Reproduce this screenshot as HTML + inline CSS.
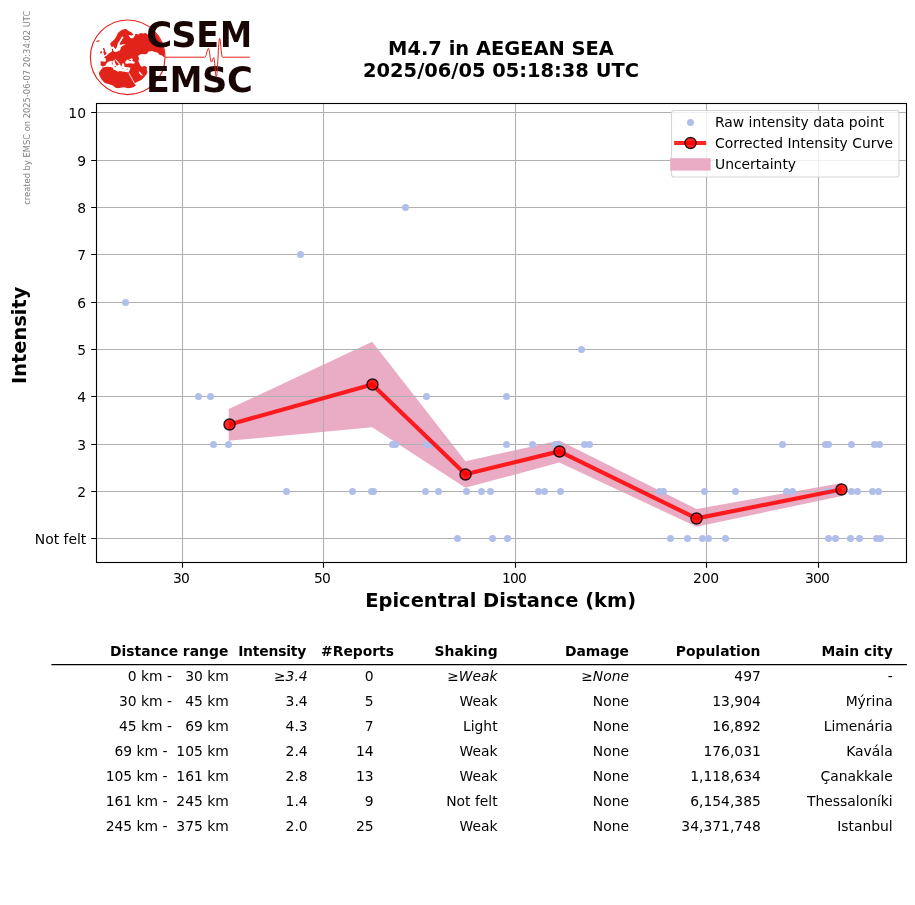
<!DOCTYPE html>
<html lang="en"><head><meta charset="utf-8"><title>M4.7 in AEGEAN SEA - Intensity vs Distance</title>
<style>
html,body{margin:0;padding:0;background:#fff;}
body{width:915px;height:905px;overflow:hidden;}
svg{display:block;font-family:"DejaVu Sans","Liberation Sans",sans-serif;will-change:transform;}
.t{font-size:13.89px;fill:#000;}
.b{font-weight:bold;}
.i{font-style:italic;}
.big{font-size:19.44px;font-weight:bold;fill:#000;}
.logo{font-family:"DejaVu Sans","Liberation Sans",sans-serif;font-weight:bold;font-size:34.84px;fill:#1a0505;}
</style></head><body>
<svg width="915" height="905" viewBox="0 0 915 905">
<rect x="0" y="0" width="915" height="905" fill="#ffffff"/>
<text transform="translate(29.6,204.8) rotate(-90)" font-size="8.33" fill="#808080">created by EMSC on 2025-06-07 20:34:02 UTC</text>
<defs><clipPath id="globe"><circle cx="127.7" cy="57.3" r="37.0"/></clipPath></defs>
<g clip-path="url(#globe)">
<polygon points="110.2,43.6 111.3,42.2 114.4,39.6 116.6,36.0 117.9,33.0 120.5,30.8 123.6,29.2 126.3,29.0 128.1,30.8 131.6,32.5 133.4,34.5 132.0,35.4 128.5,34.9 129.4,36.8 130.7,38.3 132.9,38.3 134.7,36.0 135.5,33.8 138.6,34.5 140.4,33.0 143.0,33.4 145.7,33.0 147.9,34.7 152.0,31.5 172.0,28.0 172.0,57.2 163.8,57.1 162.0,55.5 158.9,54.4 158.0,52.7 155.0,52.0 151.9,50.9 147.9,51.8 147.5,53.5 145.7,54.2 143.0,54.0 140.4,54.2 138.2,55.8 139.0,58.8 138.4,61.0 139.9,64.6 141.3,66.8 144.8,65.9 147.0,67.2 146.6,69.5 147.5,72.1 147.0,73.4 144.8,76.5 141.3,80.1 135.5,82.7 134.2,83.6 136.0,85.4 133.8,87.1 130.7,88.0 127.8,88.2 124.3,87.3 120.8,87.7 118.1,88.2 115.5,87.7 112.8,85.5 109.3,84.2 104.8,82.9 101.8,79.8 99.5,75.8 98.9,73.1 100.0,70.9 101.8,68.7 102.6,67.4 102.8,66.2 100.6,65.4 100.6,61.6 101.1,61.3 105.1,61.7 106.0,60.4 105.7,58.6 103.8,57.3 106.8,55.5 109.0,53.3 111.3,52.0 112.1,51.1 111.9,48.9 112.8,48.4 113.3,51.1 114.8,52.0 117.5,51.5 120.1,50.2 121.0,47.1 122.8,45.8 125.9,44.3 122.8,44.3 119.7,44.9 120.1,42.7 121.9,40.0 123.6,36.9 121.9,36.6 120.1,40.0 118.1,42.7 117.4,44.9 117.0,47.1 115.7,48.9 114.0,47.5 113.2,46.0 112.6,47.1 110.8,46.2" fill="#e2231a"/>
<polygon points="103.0,66.5 105.5,65.4 106.4,63.6 107.9,62.1 110.6,60.9 113.2,61.3 113.9,59.5 114.6,60.6 115.0,62.5 115.9,64.5 116.8,65.7 118.0,65.2 119.0,64.5 118.1,63.2 116.6,61.4 115.5,60.3 114.8,59.2 115.6,59.3 117.5,61.0 119.0,63.0 119.9,63.8 120.6,65.5 121.4,66.6 122.0,65.2 122.2,63.6 123.5,63.2 124.3,64.5 124.3,66.7 127.0,67.2 130.0,67.6 130.5,68.0 129.5,70.5 128.7,72.5 126.1,72.0 122.5,71.6 119.9,70.9 118.1,71.8 115.5,70.3 113.2,69.6 113.0,67.8 110.6,66.9 106.6,66.7 103.0,67.4" fill="#fff"/>
<polygon points="125.0,62.6 125.4,61.7 127.0,59.5 128.3,60.3 129.2,59.6 130.7,58.6 131.6,58.4 132.9,59.0 132.7,59.9 132.0,60.8 134.7,62.1 134.9,62.7 134.0,63.8 129.8,63.3 126.9,63.8 125.5,63.5" fill="#fff"/>
<polygon points="138.6,71.8 139.5,73.5 140.8,75.2 143.0,75.7 141.7,74.1 139.6,71.6" fill="#fff"/>
<path d="M128.9 73.2L134.4 83.2" stroke="#fff" stroke-width="0.9" fill="none"/>
<polygon points="128.9,60.0 130.6,60.1 131.0,61.1 129.8,61.3" fill="#e2231a"/>
<polygon points="103.1,47.8 104.6,48.4 105.0,50.5 105.3,51.5 106.6,53.3 106.0,54.6 103.8,55.5 104.2,53.7 103.3,52.4 103.8,50.6 102.9,49.1" fill="#e2231a"/>
<polygon points="101.3,51.1 102.2,52.0 101.6,53.6 100.0,53.3 100.4,51.8" fill="#e2231a"/>
<polygon points="96.0,41.7 97.5,40.6 99.8,40.3 99.5,41.2 97.5,42.0" fill="#e2231a"/>
<polygon points="111.8,62.2 112.6,62.3 112.6,64.6 111.9,64.6" fill="#e2231a"/>
<polygon points="114.6,66.1 116.4,66.3 115.9,67.1 114.8,66.8" fill="#e2231a"/>
<polygon points="121.9,68.0 123.4,68.1 123.4,68.6 121.9,68.5" fill="#e2231a"/>
<polygon points="126.6,69.0 127.8,68.8 127.6,69.5 126.7,69.6" fill="#e2231a"/>
</g>
<circle cx="127.7" cy="57.3" r="37.3" fill="none" stroke="#e2231a" stroke-width="1.15"/>
<text class="logo" y="47.2"><tspan x="146.16" textLength="26.00" lengthAdjust="spacingAndGlyphs">C</tspan><tspan x="171.30" textLength="25.38" lengthAdjust="spacingAndGlyphs">S</tspan><tspan x="196.27" textLength="22.77" lengthAdjust="spacingAndGlyphs">E</tspan><tspan x="219.96" textLength="32.11" lengthAdjust="spacingAndGlyphs">M</tspan></text>
<text class="logo" y="92.35"><tspan x="146.03" textLength="23.82" lengthAdjust="spacingAndGlyphs">E</tspan><tspan x="169.82" textLength="32.60" lengthAdjust="spacingAndGlyphs">M</tspan><tspan x="202.00" textLength="25.38" lengthAdjust="spacingAndGlyphs">S</tspan><tspan x="227.07" textLength="25.88" lengthAdjust="spacingAndGlyphs">C</tspan></text>
<path d="M165 57.2H204.6C206.4 57.2 207.2 48.4 208.4 48.4C209.6 48.4 210.2 62.1 211.4 62.1C212.4 62.1 212.8 57.6 213.7 57.6C214.8 57.6 215.3 77.2 216.3 77.2C217.6 77.2 218.4 38.2 219.6 38.2C220.8 38.2 221.0 57.2 222.6 57.2H249.8" stroke="#e2231a" stroke-width="1.0" fill="none" stroke-linejoin="round"/>
<text class="big" x="501.0" y="54.8" text-anchor="middle">M4.7 in AEGEAN SEA</text>
<text class="big" x="501.0" y="76.7" text-anchor="middle">2025/06/05 05:18:38 UTC</text>
<polygon points="228.7,409.0 372.2,341.8 465.5,461.2 559.3,440.4 696.5,509.1 841.9,482.9 841.9,495.9 696.5,526.7 559.3,462.6 465.5,487.8 372.2,427.3 228.7,440.8" fill="#eaacc5"/>
<path d="M182.5 103.5V562.5M323.5 103.5V562.5M515.5 103.5V562.5M706.5 103.5V562.5M818.5 103.5V562.5M96.5 538.5H906.5M96.5 491.5H906.5M96.5 444.5H906.5M96.5 396.5H906.5M96.5 349.5H906.5M96.5 302.5H906.5M96.5 254.5H906.5M96.5 207.5H906.5M96.5 160.5H906.5M96.5 112.5H906.5" stroke="#b0b0b0" stroke-width="1.11" fill="none"/>
<g fill="#b0beea">
<circle cx="457.5" cy="538.5" r="3.5"/>
<circle cx="492.5" cy="538.5" r="3.5"/>
<circle cx="507.5" cy="538.5" r="3.5"/>
<circle cx="670.5" cy="538.5" r="3.5"/>
<circle cx="687.5" cy="538.5" r="3.5"/>
<circle cx="702.5" cy="538.5" r="3.5"/>
<circle cx="708.5" cy="538.5" r="3.5"/>
<circle cx="725.5" cy="538.5" r="3.5"/>
<circle cx="828.5" cy="538.5" r="3.5"/>
<circle cx="835.5" cy="538.5" r="3.5"/>
<circle cx="850.5" cy="538.5" r="3.5"/>
<circle cx="859.5" cy="538.5" r="3.5"/>
<circle cx="876.5" cy="538.5" r="3.5"/>
<circle cx="880.5" cy="538.5" r="3.5"/>
<circle cx="286.5" cy="491.5" r="3.5"/>
<circle cx="352.5" cy="491.5" r="3.5"/>
<circle cx="371.5" cy="491.5" r="3.5"/>
<circle cx="373.5" cy="491.5" r="3.5"/>
<circle cx="425.5" cy="491.5" r="3.5"/>
<circle cx="438.5" cy="491.5" r="3.5"/>
<circle cx="466.5" cy="491.5" r="3.5"/>
<circle cx="481.5" cy="491.5" r="3.5"/>
<circle cx="490.5" cy="491.5" r="3.5"/>
<circle cx="538.5" cy="491.5" r="3.5"/>
<circle cx="544.5" cy="491.5" r="3.5"/>
<circle cx="560.5" cy="491.5" r="3.5"/>
<circle cx="659.5" cy="491.5" r="3.5"/>
<circle cx="663.5" cy="491.5" r="3.5"/>
<circle cx="704.5" cy="491.5" r="3.5"/>
<circle cx="735.5" cy="491.5" r="3.5"/>
<circle cx="786.5" cy="491.5" r="3.5"/>
<circle cx="792.5" cy="491.5" r="3.5"/>
<circle cx="826.5" cy="491.5" r="3.5"/>
<circle cx="830.5" cy="491.5" r="3.5"/>
<circle cx="851.5" cy="491.5" r="3.5"/>
<circle cx="857.5" cy="491.5" r="3.5"/>
<circle cx="872.5" cy="491.5" r="3.5"/>
<circle cx="878.5" cy="491.5" r="3.5"/>
<circle cx="213.5" cy="444.5" r="3.5"/>
<circle cx="228.5" cy="444.5" r="3.5"/>
<circle cx="392.5" cy="444.5" r="3.5"/>
<circle cx="395.5" cy="444.5" r="3.5"/>
<circle cx="426.5" cy="444.5" r="3.5"/>
<circle cx="430.5" cy="444.5" r="3.5"/>
<circle cx="506.5" cy="444.5" r="3.5"/>
<circle cx="532.5" cy="444.5" r="3.5"/>
<circle cx="555.5" cy="444.5" r="3.5"/>
<circle cx="558.5" cy="444.5" r="3.5"/>
<circle cx="584.5" cy="444.5" r="3.5"/>
<circle cx="589.5" cy="444.5" r="3.5"/>
<circle cx="782.5" cy="444.5" r="3.5"/>
<circle cx="825.5" cy="444.5" r="3.5"/>
<circle cx="828.5" cy="444.5" r="3.5"/>
<circle cx="851.5" cy="444.5" r="3.5"/>
<circle cx="874.5" cy="444.5" r="3.5"/>
<circle cx="879.5" cy="444.5" r="3.5"/>
<circle cx="198.5" cy="396.5" r="3.5"/>
<circle cx="210.5" cy="396.5" r="3.5"/>
<circle cx="426.5" cy="396.5" r="3.5"/>
<circle cx="506.5" cy="396.5" r="3.5"/>
<circle cx="581.5" cy="349.5" r="3.5"/>
<circle cx="125.5" cy="302.5" r="3.5"/>
<circle cx="300.5" cy="254.5" r="3.5"/>
<circle cx="405.5" cy="207.5" r="3.5"/>
</g>
<polyline points="229.5,424.4 372.2,384.6 465.5,474.3 559.3,451.4 696.5,518.4 841.2,489.5" fill="none" stroke="#ff0000" stroke-opacity="0.85" stroke-width="4.17" stroke-linejoin="round" stroke-linecap="butt"/>
<circle cx="229.5" cy="424.5" r="5.55" fill="#ff0000" fill-opacity="0.85" stroke="#000" stroke-opacity="0.85" stroke-width="1.39"/>
<circle cx="372.5" cy="384.5" r="5.55" fill="#ff0000" fill-opacity="0.85" stroke="#000" stroke-opacity="0.85" stroke-width="1.39"/>
<circle cx="465.5" cy="474.5" r="5.55" fill="#ff0000" fill-opacity="0.85" stroke="#000" stroke-opacity="0.85" stroke-width="1.39"/>
<circle cx="559.5" cy="451.5" r="5.55" fill="#ff0000" fill-opacity="0.85" stroke="#000" stroke-opacity="0.85" stroke-width="1.39"/>
<circle cx="696.5" cy="518.5" r="5.55" fill="#ff0000" fill-opacity="0.85" stroke="#000" stroke-opacity="0.85" stroke-width="1.39"/>
<circle cx="841.5" cy="489.5" r="5.55" fill="#ff0000" fill-opacity="0.85" stroke="#000" stroke-opacity="0.85" stroke-width="1.39"/>
<rect x="96.5" y="103.5" width="810.0" height="459.0" fill="none" stroke="#000" stroke-width="1.11"/>
<path d="M182.5 562.5v5.3M323.5 562.5v5.3M515.5 562.5v5.3M706.5 562.5v5.3M818.5 562.5v5.3M96.5 538.5h-5.3M96.5 491.5h-5.3M96.5 444.5h-5.3M96.5 396.5h-5.3M96.5 349.5h-5.3M96.5 302.5h-5.3M96.5 254.5h-5.3M96.5 207.5h-5.3M96.5 160.5h-5.3M96.5 112.5h-5.3" stroke="#000" stroke-width="1.11" fill="none"/>
<text class="t" x="181.0" y="583.0" text-anchor="middle" letter-spacing="-0.8">30</text>
<text class="t" x="322.0" y="583.0" text-anchor="middle" letter-spacing="-0.8">50</text>
<text class="t" x="514.0" y="583.0" text-anchor="middle" letter-spacing="-0.8">100</text>
<text class="t" x="706.0" y="583.0" text-anchor="middle" letter-spacing="-0.15">200</text>
<text class="t" x="817.0" y="583.0" text-anchor="middle" letter-spacing="-0.8">300</text>
<text class="t" x="86.3" y="543.7" text-anchor="end">Not felt</text>
<text class="t" x="86.0" y="496.7" text-anchor="end">2</text>
<text class="t" x="86.0" y="449.7" text-anchor="end">3</text>
<text class="t" x="86.0" y="401.7" text-anchor="end">4</text>
<text class="t" x="86.0" y="354.7" text-anchor="end">5</text>
<text class="t" x="86.0" y="307.7" text-anchor="end">6</text>
<text class="t" x="86.0" y="259.7" text-anchor="end">7</text>
<text class="t" x="86.0" y="212.7" text-anchor="end">8</text>
<text class="t" x="86.0" y="165.7" text-anchor="end">9</text>
<text class="t" x="86.0" y="117.7" text-anchor="end">10</text>
<text class="big" x="500.7" y="607.0" text-anchor="middle">Epicentral Distance (km)</text>
<text class="big" transform="translate(26.3,335.3) rotate(-90)" text-anchor="middle">Intensity</text>
<rect x="671.5" y="110.5" width="227.5" height="66.5" rx="2.8" ry="2.8" fill="#ffffff" fill-opacity="0.8" stroke="#cccccc" stroke-opacity="0.8" stroke-width="1.11"/>
<circle cx="690.5" cy="122.5" r="3.5" fill="#b0beea"/>
<path d="M674.1 143H706.1" stroke="#ff0000" stroke-opacity="0.85" stroke-width="4.17"/>
<circle cx="690.5" cy="143" r="5.55" fill="#ff0000" fill-opacity="0.85" stroke="#000" stroke-opacity="0.85" stroke-width="1.39"/>
<rect x="670.2" y="158.2" width="40.5" height="12.4" fill="#eaacc5"/>
<text class="t" x="715.0" y="126.6">Raw intensity data point</text>
<text class="t" x="715.0" y="147.5">Corrected Intensity Curve</text>
<text class="t" x="715.0" y="169.2">Uncertainty</text>
<text class="t b" x="228.3" y="655.8" text-anchor="end">Distance range</text>
<text class="t b" x="306.2" y="655.8" text-anchor="end" letter-spacing="-0.18">Intensity</text>
<text class="t b" x="394.0" y="655.8" text-anchor="end">#Reports</text>
<text class="t b" x="497.6" y="655.8" text-anchor="end">Shaking</text>
<text class="t b" x="629.0" y="655.8" text-anchor="end">Damage</text>
<text class="t b" x="760.3" y="655.8" text-anchor="end">Population</text>
<text class="t b" x="892.7" y="655.8" text-anchor="end">Main city</text>
<path d="M51.4 664.5H906.9" stroke="#000" stroke-width="1.25" fill="none"/>
<text class="t" x="228.8" y="680.9" text-anchor="end">  0 km -   30 km</text>
<text class="t" x="307.7" y="680.9" text-anchor="end">≥<tspan class="i">3.4</tspan></text>
<text class="t" x="373.7" y="680.9" text-anchor="end">0</text>
<text class="t" x="497.6" y="680.9" text-anchor="end">≥<tspan class="i">Weak</tspan></text>
<text class="t" x="629.0" y="680.9" text-anchor="end">≥<tspan class="i">None</tspan></text>
<text class="t" x="760.8" y="680.9" text-anchor="end">497</text>
<text class="t" x="892.7" y="680.9" text-anchor="end">-</text>
<text class="t" x="228.8" y="705.9" text-anchor="end"> 30 km -   45 km</text>
<text class="t" x="307.7" y="705.9" text-anchor="end">3.4</text>
<text class="t" x="373.7" y="705.9" text-anchor="end">5</text>
<text class="t" x="497.6" y="705.9" text-anchor="end">Weak</text>
<text class="t" x="629.0" y="705.9" text-anchor="end">None</text>
<text class="t" x="760.8" y="705.9" text-anchor="end">13,904</text>
<text class="t" x="892.7" y="705.9" text-anchor="end">Mýrina</text>
<text class="t" x="228.8" y="730.9" text-anchor="end"> 45 km -   69 km</text>
<text class="t" x="307.7" y="730.9" text-anchor="end">4.3</text>
<text class="t" x="373.7" y="730.9" text-anchor="end">7</text>
<text class="t" x="497.6" y="730.9" text-anchor="end">Light</text>
<text class="t" x="629.0" y="730.9" text-anchor="end">None</text>
<text class="t" x="760.8" y="730.9" text-anchor="end">16,892</text>
<text class="t" x="892.7" y="730.9" text-anchor="end">Limenária</text>
<text class="t" x="228.8" y="755.9" text-anchor="end"> 69 km -  105 km</text>
<text class="t" x="307.7" y="755.9" text-anchor="end">2.4</text>
<text class="t" x="373.7" y="755.9" text-anchor="end">14</text>
<text class="t" x="497.6" y="755.9" text-anchor="end">Weak</text>
<text class="t" x="629.0" y="755.9" text-anchor="end">None</text>
<text class="t" x="760.8" y="755.9" text-anchor="end">176,031</text>
<text class="t" x="892.7" y="755.9" text-anchor="end">Kavála</text>
<text class="t" x="228.8" y="780.9" text-anchor="end">105 km -  161 km</text>
<text class="t" x="307.7" y="780.9" text-anchor="end">2.8</text>
<text class="t" x="373.7" y="780.9" text-anchor="end">13</text>
<text class="t" x="497.6" y="780.9" text-anchor="end">Weak</text>
<text class="t" x="629.0" y="780.9" text-anchor="end">None</text>
<text class="t" x="760.8" y="780.9" text-anchor="end">1,118,634</text>
<text class="t" x="892.7" y="780.9" text-anchor="end">Çanakkale</text>
<text class="t" x="228.8" y="805.9" text-anchor="end">161 km -  245 km</text>
<text class="t" x="307.7" y="805.9" text-anchor="end">1.4</text>
<text class="t" x="373.7" y="805.9" text-anchor="end">9</text>
<text class="t" x="497.6" y="805.9" text-anchor="end">Not felt</text>
<text class="t" x="629.0" y="805.9" text-anchor="end">None</text>
<text class="t" x="760.8" y="805.9" text-anchor="end">6,154,385</text>
<text class="t" x="892.7" y="805.9" text-anchor="end">Thessaloníki</text>
<text class="t" x="228.8" y="830.9" text-anchor="end">245 km -  375 km</text>
<text class="t" x="307.7" y="830.9" text-anchor="end">2.0</text>
<text class="t" x="373.7" y="830.9" text-anchor="end">25</text>
<text class="t" x="497.6" y="830.9" text-anchor="end">Weak</text>
<text class="t" x="629.0" y="830.9" text-anchor="end">None</text>
<text class="t" x="760.8" y="830.9" text-anchor="end">34,371,748</text>
<text class="t" x="892.7" y="830.9" text-anchor="end">Istanbul</text>
</svg></body></html>
